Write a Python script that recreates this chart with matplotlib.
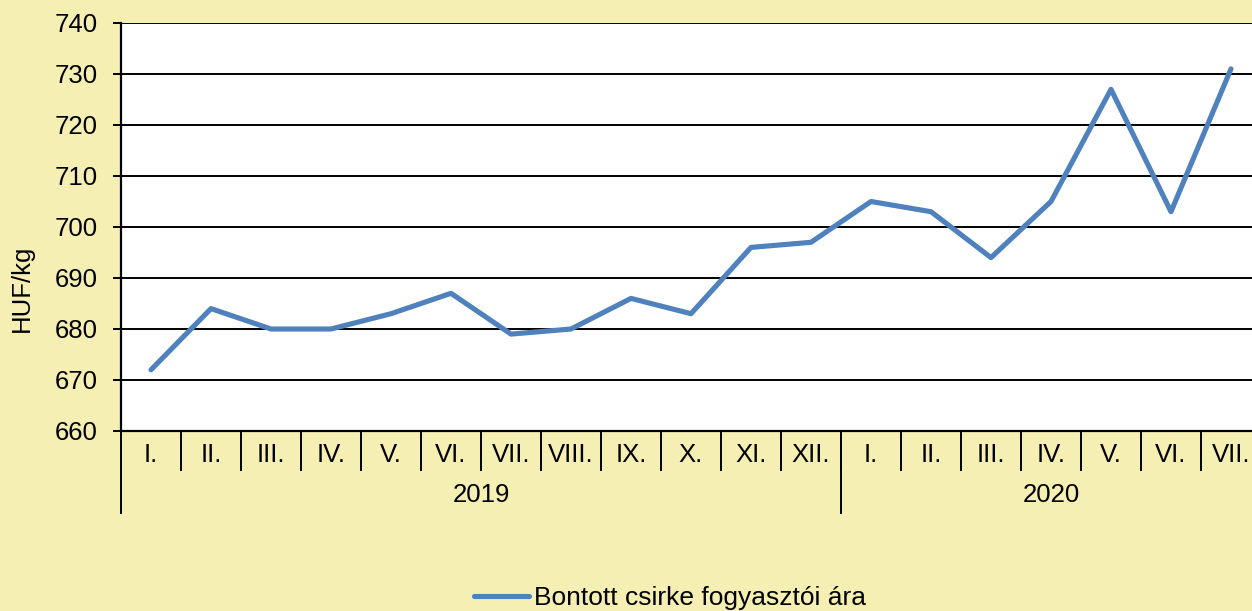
import matplotlib.pyplot as plt

plt.rcParams['font.family'] = ['Liberation Sans', 'DejaVu Sans']

months = ["I.", "II.", "III.", "IV.", "V.", "VI.", "VII.", "VIII.", "IX.", "X.", "XI.", "XII.",
          "I.", "II.", "III.", "IV.", "V.", "VI.", "VII."]
years = ["2019", "2020"]
year_counts = [12, 7]
prices = [672, 684, 680, 680, 683, 687, 679, 680, 686, 683, 696, 697,
          705, 703, 694, 705, 727, 703, 731]

bg = '#F5EFB3'
blue = '#4F81BD'
fs = 18.5

fig = plt.figure(figsize=(12.52, 6.11), dpi=100, facecolor=bg)
# plot area runs a little past the right edge of the picture
ax = fig.add_axes([121 / 1252, 1 - 431 / 611, 1140 / 1252, 408 / 611])
ax.set_facecolor('white')

n = len(prices)
xs = [i + 0.5 for i in range(n)]
ax.plot(xs, prices, color=blue, lw=3.7, solid_joinstyle='round', solid_capstyle='round',
        label="Bontott csirke fogyasztói ára", zorder=3)

ax.set_xlim(0, n)
ax.set_ylim(660, 740)
ax.set_yticks(range(660, 741, 10))
ax.yaxis.grid(True, color='black', lw=1.4)
ax.set_axisbelow(True)
ax.tick_params(axis='y', labelsize=fs, length=6, width=1.4, pad=11)
ax.set_xticks([])
for s in ['top', 'right']:
    ax.spines[s].set_visible(False)
ax.spines['left'].set_linewidth(1.6)
ax.spines['bottom'].set_linewidth(1.6)
ax.set_ylabel("HUF/kg", fontsize=fs)
ax.yaxis.set_label_coords(-0.0765, 0.35)

tr = ax.get_xaxis_transform()
# month separators and labels
for i in range(1, n):
    ax.plot([i, i], [0, -0.096], transform=tr, color='black', lw=1.4, clip_on=False)
for i, m in enumerate(months):
    ax.text(i + 0.5, -0.058, m, transform=tr, ha='center', va='center', fontsize=fs)

# year separators and labels
start = 0
for y, c in zip(years, year_counts):
    ax.plot([start, start], [0, -0.2], transform=tr, color='black', lw=1.4, clip_on=False)
    ax.text(start + c / 2, -0.158, y, transform=tr, ha='center', va='center', fontsize=fs)
    start += c

fig.legend(loc='center', bbox_to_anchor=(670 / 1252, 1 - 598 / 611), frameon=False,
           fontsize=19, handlelength=2.1, handletextpad=0.2)

fig.savefig('out.png', dpi=100, facecolor=bg)
